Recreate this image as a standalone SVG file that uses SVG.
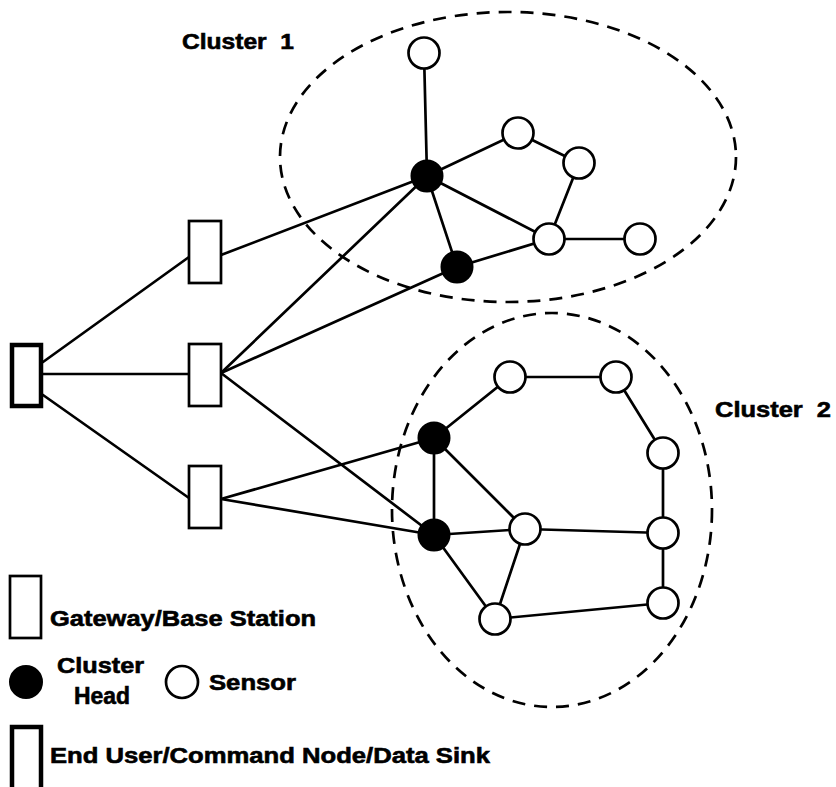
<svg xmlns="http://www.w3.org/2000/svg" width="836" height="787" viewBox="0 0 836 787">
<style>
  .edge { stroke: #000; stroke-width: 2.7; fill: none; stroke-linecap: round; }
  .gw { fill: #fff; stroke: #000; stroke-width: 2.7; }
  .sink { fill: #fff; stroke: #000; stroke-width: 4.5; }
  .ch { fill: #000; stroke: #000; stroke-width: 2; }
  .sn { fill: #fff; stroke: #000; stroke-width: 2.7; }
  .cl { fill: none; stroke: #000; stroke-width: 2.7; stroke-dasharray: 13 9; }
  .lbl { font-family: "Liberation Sans", Arial, sans-serif; font-weight: bold; font-size: 22px; fill: #000; stroke: #000; stroke-width: 0.6; }
</style>
<rect width="836" height="787" fill="#fff"/>

<g id="clusters">
  <ellipse id="cluster1" class="cl" cx="508" cy="157" rx="228" ry="145"/>
  <ellipse id="cluster2" class="cl" cx="552" cy="510" rx="160" ry="197"/>
</g>

<g id="connectors">
  <line class="edge" x1="43" y1="362" x2="189" y2="257"/>
  <line class="edge" x1="43" y1="374" x2="189" y2="374"/>
  <line class="edge" x1="43" y1="395" x2="189" y2="498"/>
  <line class="edge" x1="221" y1="255" x2="427" y2="176"/>
  <line class="edge" x1="221" y1="373" x2="427" y2="176"/>
  <line class="edge" x1="221" y1="373" x2="457" y2="267"/>
  <line class="edge" x1="221" y1="373" x2="434" y2="535"/>
  <line class="edge" x1="221" y1="499" x2="434" y2="438"/>
  <line class="edge" x1="221" y1="499" x2="434" y2="535"/>
  <line class="edge" x1="427" y1="176" x2="424" y2="53"/>
  <line class="edge" x1="427" y1="176" x2="518" y2="133"/>
  <line class="edge" x1="518" y1="133" x2="579" y2="163"/>
  <line class="edge" x1="579" y1="163" x2="549" y2="239"/>
  <line class="edge" x1="427" y1="176" x2="549" y2="239"/>
  <line class="edge" x1="427" y1="176" x2="457" y2="267"/>
  <line class="edge" x1="457" y1="267" x2="549" y2="239"/>
  <line class="edge" x1="549" y1="239" x2="640" y2="239"/>
  <line class="edge" x1="434" y1="438" x2="510" y2="377"/>
  <line class="edge" x1="510" y1="377" x2="616" y2="377"/>
  <line class="edge" x1="616" y1="377" x2="663" y2="453"/>
  <line class="edge" x1="663" y1="453" x2="663" y2="533"/>
  <line class="edge" x1="434" y1="438" x2="434" y2="535"/>
  <line class="edge" x1="434" y1="438" x2="525" y2="529"/>
  <line class="edge" x1="434" y1="535" x2="525" y2="529"/>
  <line class="edge" x1="525" y1="529" x2="663" y2="533"/>
  <line class="edge" x1="663" y1="533" x2="663" y2="603"/>
  <line class="edge" x1="434" y1="535" x2="495" y2="619"/>
  <line class="edge" x1="525" y1="529" x2="495" y2="619"/>
  <line class="edge" x1="495" y1="619" x2="663" y2="603"/>
</g>

<g id="sink"><rect class="sink" x="12" y="345" width="29" height="61"/></g>
<g id="gateway1"><rect class="gw" x="189" y="221" width="32" height="62"/></g>
<g id="gateway2"><rect class="gw" x="189" y="344" width="32" height="62"/></g>
<g id="gateway3"><rect class="gw" x="189" y="466" width="32" height="62"/></g>

<g id="ch1"><circle class="ch" cx="427" cy="176" r="15.5"/></g>
<g id="ch2"><circle class="ch" cx="457" cy="267" r="15.5"/></g>
<g id="s1a"><circle class="sn" cx="424" cy="53" r="15.5"/></g>
<g id="s1b"><circle class="sn" cx="518" cy="133" r="15.5"/></g>
<g id="s1c"><circle class="sn" cx="579" cy="163" r="15.5"/></g>
<g id="s1d"><circle class="sn" cx="549" cy="239" r="15.5"/></g>
<g id="s1e"><circle class="sn" cx="640" cy="239" r="15.5"/></g>

<g id="ch3"><circle class="ch" cx="434" cy="438" r="15.5"/></g>
<g id="ch4"><circle class="ch" cx="434" cy="535" r="15.5"/></g>
<g id="s2a"><circle class="sn" cx="510" cy="377" r="15.5"/></g>
<g id="s2b"><circle class="sn" cx="616" cy="377" r="15.5"/></g>
<g id="s2c"><circle class="sn" cx="663" cy="453" r="15.5"/></g>
<g id="s2d"><circle class="sn" cx="525" cy="529" r="15.5"/></g>
<g id="s2e"><circle class="sn" cx="663" cy="533" r="15.5"/></g>
<g id="s2f"><circle class="sn" cx="663" cy="603" r="15.5"/></g>
<g id="s2g"><circle class="sn" cx="495" cy="619" r="15.5"/></g>

<g id="labels">
  <text class="lbl" x="182" y="49" textLength="112" lengthAdjust="spacingAndGlyphs" xml:space="preserve">Cluster  1</text>
  <text class="lbl" x="715" y="417" textLength="116" lengthAdjust="spacingAndGlyphs" xml:space="preserve">Cluster  2</text>
</g>

<g id="legend">
  <rect class="gw" x="10" y="576" width="31" height="62"/>
  <text class="lbl" x="50" y="626" textLength="266" lengthAdjust="spacingAndGlyphs">Gateway/Base Station</text>
  <circle class="ch" cx="26" cy="682" r="16"/>
  <text class="lbl" x="57" y="673" textLength="87" lengthAdjust="spacingAndGlyphs">Cluster</text>
  <text class="lbl" x="74" y="704" style="font-size:23px" textLength="56" lengthAdjust="spacingAndGlyphs">Head</text>
  <circle class="sn" cx="182" cy="682" r="16"/>
  <text class="lbl" x="209" y="690" textLength="87" lengthAdjust="spacingAndGlyphs">Sensor</text>
  <rect class="sink" x="12" y="727" width="29" height="64"/>
  <text class="lbl" x="50" y="763" textLength="440" lengthAdjust="spacingAndGlyphs">End User/Command Node/Data Sink</text>
</g>
</svg>
